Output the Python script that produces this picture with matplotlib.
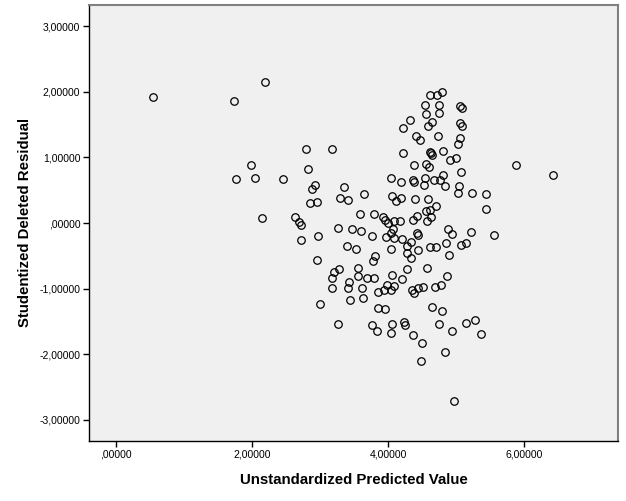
import matplotlib
matplotlib.use("Agg")
import matplotlib.pyplot as plt
from matplotlib.ticker import FuncFormatter

# values
x_pred = [0.545, 1.73, 2.19, 1.765, 1.99, 2.05, 2.46, 2.15, 2.79, 3.18,
          2.83, 2.63, 2.69, 2.72, 2.72, 2.88, 2.93, 2.85, 2.95, 2.97,
          2.96, 3.00, 3.35, 3.30, 3.41, 3.64, 3.27, 3.47, 3.60, 3.59,
          3.39, 3.53, 3.77, 3.79, 3.81, 3.78, 3.21, 3.28, 3.18, 3.18,
          3.43, 3.41, 3.44, 3.56, 3.56, 3.61, 3.69, 3.63, 3.79, 3.26,
          3.77, 3.84, 3.85, 3.96, 3.85, 3.94, 3.98, 4.04, 4.09, 4.05,
          4.20, 4.04, 4.05, 4.23, 4.25, 4.37, 4.49, 4.48, 4.84, 4.97,
          4.94, 4.75, 4.79, 4.65, 5.14, 5.27, 5.37, 4.35, 4.38, 4.44,
          4.51, 4.69, 4.78, 4.86, 4.57, 4.27, 4.33, 4.28, 4.44, 4.28,
          4.34, 4.21, 4.09, 3.97, 4.04, 4.04, 4.07, 4.08, 4.00, 3.93,
          3.96, 4.18, 4.37, 4.42, 4.43, 4.44, 4.57, 4.63, 4.56, 4.61,
          4.70, 4.61, 4.71, 4.85, 4.90, 4.88, 4.94, 5.07, 5.15, 5.22,
          5.55, 5.43, 5.44, 5.23, 5.02, 5.04, 5.07, 4.84, 4.81, 4.76,
          4.67, 4.59, 4.40, 4.19, 4.11, 4.06, 4.04, 4.19, 4.36, 4.38,
          4.52, 4.54, 4.38, 4.56, 4.60, 4.22, 4.61, 4.63, 4.65, 4.81,
          4.91, 4.99, 5.02, 5.05, 4.73, 4.41, 4.47, 4.22, 4.32, 4.58,
          4.65, 4.56, 4.54, 4.74, 4.74, 4.62, 4.72, 4.79, 5.06, 5.09,
          5.06, 5.09, 5.88, 6.42]
y_resid = [1.915, 1.854, 2.145, 0.672, 0.891, 0.683, 0.667, 0.071, 1.126, 1.136,
           0.830, 0.092, 0.010, -0.036, -0.260, 0.515, 0.576, 0.306, 0.316, -0.199,
           -0.560, -1.228, 0.550, 0.377, 0.351, 0.443, -0.082, -0.087, -0.117, 0.143,
           -0.346, -0.402, -0.204, 0.132, -0.499, -0.586, -0.744, -0.708, -0.835, -0.988,
           -0.907, -0.988, -1.172, -0.688, -0.805, -0.988, -0.846, -1.141, -0.846, -1.538,
           -1.549, -1.651, -1.289, -1.304, -1.055, -1.029, -0.948, -1.029, -0.963, -0.800,
           -0.856, -1.671, -1.533, -1.503, -1.554, -1.712, -1.829, -2.104, -1.961, -2.715,
           -1.651, -1.533, -1.335, -1.274, -1.528, -1.472, -1.691, -1.019, -1.075, -0.998,
           -0.983, -0.978, -0.948, -0.810, -0.693, -0.698, -0.530, -0.464, -0.413, -0.346,
           -0.295, -0.250, -0.229, -0.219, -0.402, -0.158, -0.087, 0.036, -0.005, 0.097,
           0.051, 0.025, 0.041, 0.112, -0.158, -0.183, 0.036, 0.092, 0.178, 0.199,
           0.255, -0.372, -0.372, -0.306, -0.484, -0.097, -0.173, -0.336, -0.306, -0.138,
           -0.183, 0.209, 0.448, 0.464, 0.464, 0.571, 0.779, 0.571, 0.728, 0.652,
           0.652, 0.367, 0.362, 0.377, 0.341, 0.413, 0.693, 0.622, 0.652, 0.627,
           0.581, 0.688, 0.881, 0.907, 0.861, 1.075, 1.085, 1.065, 1.039, 1.095,
           0.963, 0.998, 1.202, 1.299, 1.324, 1.335, 1.263, 1.452, 1.569, 1.487,
           1.538, 1.656, 1.798, 1.803, 1.676, 1.956, 1.951, 1.992, 1.778, 1.752,
           1.528, 1.487, 0.891, 0.728]

x_ticks = [0, 2, 4, 6]
y_ticks = [-3, -2, -1, 0, 1, 2, 3]


def spss_fmt(v, pos=None):
    s = f"{v:.5f}".replace(".", ",")
    if s.startswith("0,"):
        s = s[1:]
    if s == "-0,00000":
        s = ",00000"
    return s


plt.rcParams["font.family"] = ["Liberation Sans", "DejaVu Sans"]

fig = plt.figure(figsize=(6.26, 5.01), dpi=100)
ax = fig.add_axes([0.1427, 0.1204, 0.845, 0.8702])
ax.set_facecolor("#f0f0f0")

ax.plot(x_pred, y_resid, "o", mfc="none", mec="black", mew=0.9, ms=5.4)

ax.set_xlim(-0.388, 7.38)
ax.set_ylim(-3.32, 3.33)
ax.set_xticks(x_ticks)
ax.set_yticks(y_ticks)
ax.xaxis.set_major_formatter(FuncFormatter(spss_fmt))
ax.yaxis.set_major_formatter(FuncFormatter(spss_fmt))
ax.tick_params(labelsize=7.5, length=4.5, width=1, pad=2)

for side in ["top", "right"]:
    ax.spines[side].set_color("#808080")
    ax.spines[side].set_linewidth(1.5)
for side in ["left", "bottom"]:
    ax.spines[side].set_color("black")
    ax.spines[side].set_linewidth(1)

ax.set_xlabel("Unstandardized Predicted Value", fontsize=10.8, fontweight="bold")
ax.set_ylabel("Studentized Deleted Residual", fontsize=10.8, fontweight="bold")
ax.xaxis.set_label_coords(0.5, -0.074)
ax.yaxis.set_label_coords(-0.108, 0.5)

fig.savefig("out.png", dpi=100)
